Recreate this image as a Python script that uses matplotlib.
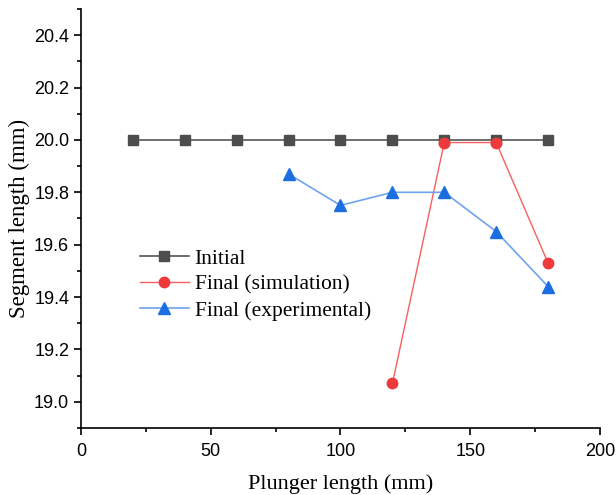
import numpy as np
import matplotlib.pyplot as plt
from matplotlib.ticker import MultipleLocator

x_initial = [20, 40, 60, 80, 100, 120, 140, 160, 180]
y_initial = [20.0, 20.0, 20.0, 20.0, 20.0, 20.0, 20.0, 20.0, 20.0]

x_sim = [120, 140, 160, 180]
y_sim = [19.07, 19.99, 19.99, 19.53]

x_exp = [80, 100, 120, 140, 160, 180]
y_exp = [19.87, 19.75, 19.80, 19.80, 19.65, 19.44]

fig = plt.figure(figsize=(6.16, 4.95), dpi=100)
ax = fig.add_axes([0.1315, 0.1354, 0.8425, 0.8464])

ax.plot(x_initial, y_initial, color="#555555", linewidth=1.2, marker='s',
        markersize=6.5, markerfacecolor="#4d4d4d", markeredgecolor="#4d4d4d",
        label="Initial")
ax.plot(x_sim, y_sim, color="#f56060", linewidth=1.0, marker='o',
        markersize=7.5, markerfacecolor="#ee3a3a", markeredgecolor="#ee3a3a",
        label="Final (simulation)")
ax.plot(x_exp, y_exp, color="#6fa3ee", linewidth=1.2, marker='^',
        markersize=8, markerfacecolor="#1a6ee0", markeredgecolor="#1a6ee0",
        label="Final (experimental)")

ax.set_xlim(0, 200)
ax.set_ylim(18.9, 20.5)
ax.xaxis.set_major_locator(MultipleLocator(50))
ax.xaxis.set_minor_locator(MultipleLocator(25))
ax.yaxis.set_minor_locator(MultipleLocator(0.1))
yt = np.arange(19.0, 20.41, 0.2)
ax.set_yticks(yt)
ax.set_yticklabels([f"{v:.1f}" for v in yt])

for s in ['top', 'right']:
    ax.spines[s].set_visible(False)
for s in ['left', 'bottom']:
    ax.spines[s].set_linewidth(1.2)

ax.tick_params(which='major', direction='out', length=5, width=1.2,
               labelsize=13)
ax.tick_params(axis='x', which='major', pad=6)
ax.tick_params(which='minor', direction='out', length=3, width=1.2)
for lbl in ax.get_xticklabels() + ax.get_yticklabels():
    lbl.set_fontfamily("Liberation Sans")

ax.set_xlabel("Plunger length (mm)", fontsize=16, family="Liberation Serif",
              labelpad=10)
ax.set_ylabel("Segment length (mm)", fontsize=16.5, family="Liberation Serif",
              labelpad=3)

ax.legend(loc='upper left', bbox_to_anchor=(0.113, 0.428), frameon=False,
          prop={'family': 'Liberation Serif', 'size': 15.5},
          handlelength=2.3, handletextpad=0.25, labelspacing=0.28,
          borderaxespad=0, borderpad=0)

fig.savefig("out.png", dpi=100)
